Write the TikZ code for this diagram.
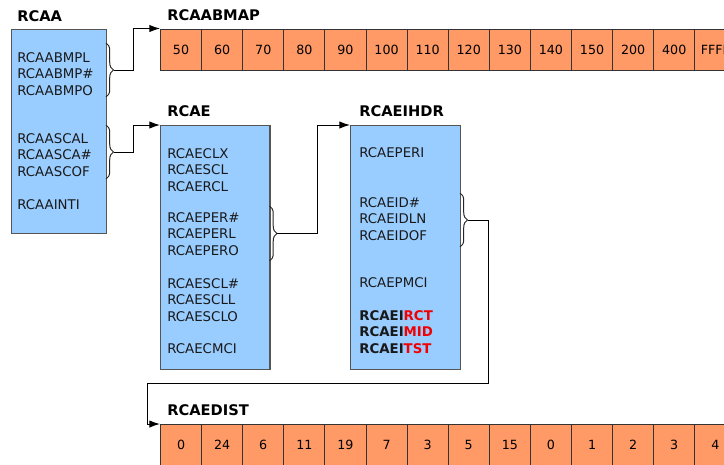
\documentclass[tikz,border=0pt]{standalone}
\usepackage{fontspec}
\setmainfont{DejaVu Sans}
\usetikzlibrary{arrows.meta,decorations.pathreplacing}
\definecolor{boxblue}{RGB}{153,204,255}
\definecolor{cellorange}{RGB}{255,153,102}
\definecolor{boxline}{RGB}{85,85,85}
\definecolor{hot}{RGB}{240,0,0}
\tikzstyle{record}=[draw=boxline,fill=boxblue,line width=0.9pt,anchor=north west,inner sep=0pt]
\tikzstyle{cell}=[draw=black!80,fill=cellorange,line width=0.75pt,anchor=north west,minimum width=30.825pt,minimum height=31.1pt,inner sep=0pt,font=\fontsize{9.5}{11}\selectfont]
\tikzstyle{field}=[anchor=west,inner sep=0pt,align=left,text=black!90,font=\fontsize{10}{12.2}\selectfont]
\tikzstyle{title}=[anchor=west,inner sep=0pt,font=\fontsize{11}{13}\selectfont\bfseries]
\tikzstyle{group}=[draw=black!85,line width=0.75pt,decorate,decoration={brace,amplitude=5.6pt}]
\tikzstyle{link}=[draw,line width=0.75pt,-{Latex[length=8pt,width=5.5pt]}]

\begin{document}
\begin{tikzpicture}[x=0.75pt,y=-0.75pt]
\useasboundingbox (0,0) rectangle (724,464);
\clip (0,0) rectangle (724,464);

% records
\node[record,minimum width=71.6pt,minimum height=153pt] (rcaa) at (10.5,29) {};
\node[record,minimum width=82.1pt,minimum height=183pt] (rcae) at (160,125) {};
\node[record,minimum width=82.5pt,minimum height=183pt] (ihdr) at (350,125) {};

% titles
\node[title] (trcaa) at (17,16) {RCAA};
\node[title] (tbmap) at (167,15) {RCAABMAP};
\node[title] (trcae) at (167,111) {RCAE};
\node[title] (tihdr) at (359,111) {RCAEIHDR};
\node[title] (tdist) at (167,410) {RCAEDIST};

% RCAA fields
\node[field] (aabmp) at (17,74) {RCAABMPL\\RCAABMP\#\\RCAABMPO};
\node[field] (aasca) at (17,155) {RCAASCAL\\RCAASCA\#\\RCAASCOF};
\node[field] (aainti) at (17,205) {RCAAINTI};

% RCAE fields
\node[field] (aecl) at (167,170) {RCAECLX\\RCAESCL\\RCAERCL};
\node[field] (aeper) at (167,234) {RCAEPER\#\\RCAEPERL\\RCAEPERO};
\node[field] (aescl) at (167,300) {RCAESCL\#\\RCAESCLL\\RCAESCLO};
\node[field] (aecmci) at (167,349) {RCAECMCI};

% RCAEIHDR fields
\node[field] (ieperi) at (359,153) {RCAEPERI};
\node[field] (ieid) at (359,219) {RCAEID\#\\RCAEIDLN\\RCAEIDOF};
\node[field] (iepmci) at (359,283) {RCAEPMCI};
\node[field,font=\fontsize{10}{12.2}\selectfont\bfseries] (iemark) at (359,332)
  {RCAEI\textcolor{hot}{RCT}\\RCAEI\textcolor{hot}{MID}\\RCAEI\textcolor{hot}{TST}};

% arrays
\foreach \v [count=\i] in {50,60,70,80,90,100,110,120,130,140,150,200,400,FFFF}
  \node[cell] (map\i) at ({160+41.1*(\i-1)},28.5) {\v};
\foreach \v [count=\i] in {0,24,6,11,19,7,3,5,15,0,1,2,3,4}
  \node[cell] (dist\i) at ({160+41.1*(\i-1)},424) {\v};

% braces
\draw[group] (106,43) -- (106,97);
\draw[group] (106,125) -- (106,179);
\draw[group] (269.5,206) -- (269.5,261);
\draw[group] (460,193) -- (460,247);
\coordinate (bmpTip) at (113.5,70);
\coordinate (scaTip) at (113.5,152);
\coordinate (perTip) at (277,233.5);
\coordinate (idTip) at (467.5,220);

% links
\draw[link] (bmpTip) -- ++(20,0) |- (map1.north west);
\draw[link] (scaTip) -- ++(20,0) |- (rcae.north west);
\draw[link] (perTip) -- ++(40,0) |- (ihdr.north west);
\draw[link] (idTip) -- ++(20.5,0) |- (147,383) |- (dist1.north west);

\end{tikzpicture}
\end{document}
